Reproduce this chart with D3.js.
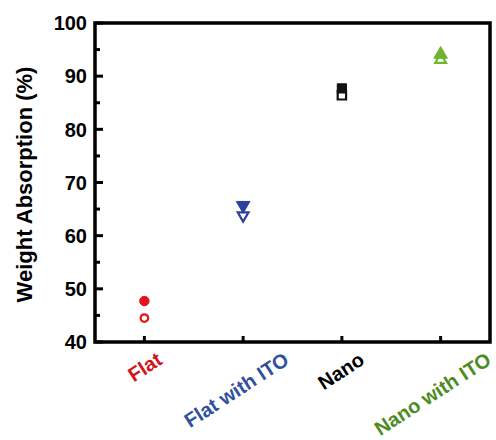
<!DOCTYPE html>
<html lang="en">
<head>
<meta charset="utf-8">
<title>Weight Absorption</title>
<script src="https://d3js.org/d3.v7.min.js"></script>
<style>
    body { margin: 0; background: white; }
    svg { font-family: "Liberation Sans", Arial, sans-serif; font-weight: bold; }
    .frame { fill: none; stroke: black; stroke-width: 3.5; }
    .tick-mark { stroke: black; stroke-width: 3; }
</style>
</head>
<body>
<script>
    var categories = ["Flat", "Flat with ITO", "Nano", "Nano with ITO"];
    var labelColors = ["#d4121b", "#3050a0", "#000000", "#4e8c22"];
    var markColors = ["#e5141c", "#2e3f9c", "#111111", "#6cb52e"];
    var shapes = ["circle", "down", "square", "up"];
    var filledValues = [47.7, 65.7, 87.7, 94.1];
    var openValues = [44.5, 63.8, 86.4, 93.1];
    var yTicks = [40, 50, 60, 70, 80, 90, 100];
    var yMinor = [45, 55, 65, 75, 85, 95];

    var w = 496, h = 440;
    var margin = { left: 95, right: 6, top: 23, bottom: 98 };

    var svg = d3.select("body").append("svg")
        .attr("width", w)
        .attr("height", h);

    var x = d3.scalePoint().domain(categories).range([margin.left, w - margin.right]).padding(0.5);
    var y = d3.scaleLinear().domain([40, 100]).range([h - margin.bottom, margin.top]);

    // ticks inward
    svg.selectAll("line.ymaj").data(yTicks).enter().append("line")
        .attr("class", "tick-mark")
        .attr("x1", margin.left).attr("x2", margin.left + 8)
        .attr("y1", d => y(d)).attr("y2", d => y(d));
    svg.selectAll("line.ymin").data(yMinor).enter().append("line")
        .attr("class", "tick-mark")
        .attr("x1", margin.left).attr("x2", margin.left + 5)
        .attr("y1", d => y(d)).attr("y2", d => y(d));
    svg.selectAll("line.xmaj").data(categories).enter().append("line")
        .attr("class", "tick-mark")
        .attr("x1", d => x(d)).attr("x2", d => x(d))
        .attr("y1", y(40)).attr("y2", y(40) - 6);

    // frame
    svg.append("rect")
        .attr("class", "frame")
        .attr("x", margin.left).attr("y", margin.top)
        .attr("width", w - margin.right - margin.left)
        .attr("height", y(40) - margin.top);

    // y tick labels
    svg.selectAll("text.ylab").data(yTicks).enter().append("text")
        .attr("x", margin.left - 8)
        .attr("y", d => y(d))
        .attr("dy", "0.36em")
        .attr("text-anchor", "end")
        .attr("font-size", 20)
        .text(d => d);

    // y title
    svg.append("text")
        .attr("transform", `translate(32, ${(y(40) + y(100)) / 2 + 2}) rotate(-90)`)
        .attr("text-anchor", "middle")
        .attr("font-size", 22)
        .text("Weight Absorption (%)");

    // x labels, rotated
    var ang = 33;
    var rad = ang * Math.PI / 180;
    svg.selectAll("text.xlab").data(categories).enter().append("text")
        .attr("text-anchor", "middle")
        .attr("dy", "0.35em")
        .attr("font-size", 20)
        .attr("fill", (d, i) => labelColors[i])
        .text(d => d)
        .attr("transform", function (d) {
            var len = this.getComputedTextLength();
            var cy = 351 + (len / 2) * Math.sin(rad) + 7.5 * Math.cos(rad);
            var cx = x(d) - (len - 40) * 0.085;
            return `translate(${cx}, ${cy}) rotate(${-ang})`;
        });

    // markers
    function symbolFor(s, size) {
        var t = s == "circle" ? d3.symbolCircle : s == "square" ? d3.symbolSquare : d3.symbolTriangle;
        return d3.symbol().type(t).size(size)();
    }
    var pts = svg.append("g");
    categories.forEach(function (c, i) {
        var s = shapes[i];
        var rot = s == "down" ? 180 : 0;
        var big = s == "circle" ? 70 : s == "square" ? 85 : 80;
        var small = s == "circle" ? 45 : s == "square" ? 70 : 50;
        pts.append("path")
            .attr("d", symbolFor(s, small))
            .attr("transform", `translate(${x(c)}, ${y(openValues[i])}) rotate(${rot})`)
            .attr("fill", "white")
            .attr("stroke", markColors[i])
            .attr("stroke-width", 2.2);
        pts.append("path")
            .attr("d", symbolFor(s, big))
            .attr("transform", `translate(${x(c)}, ${y(filledValues[i])}) rotate(${rot})`)
            .attr("fill", markColors[i])
            .attr("stroke", markColors[i])
            .attr("stroke-width", 1);
    });
</script>
</body>
</html>
